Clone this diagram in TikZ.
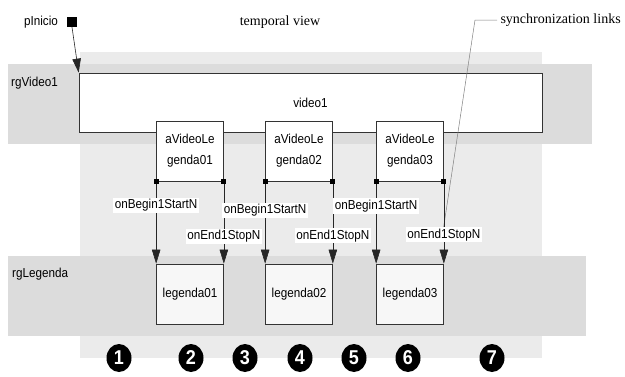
\documentclass[tikz,border=0pt]{standalone}
\usepackage{fontspec}
\setmainfont{Liberation Serif}
\setsansfont{Liberation Sans}[FakeStretch=0.9]
\usetikzlibrary{arrows.meta,shapes.geometric}

\definecolor{bgLight}{HTML}{EBEBEB}
\definecolor{bgBand}{HTML}{DCDCDC}
\definecolor{boxLine}{HTML}{333333}

\tikzset{
  txt/.style={font=\sffamily\fontsize{13}{21}\selectfont, inner sep=1pt},
  box/.style={draw=boxLine, fill=white, line width=0.7pt, inner sep=0pt,
              minimum width=67pt, minimum height=60pt, align=center, txt},
  leg/.style={box, fill=black!3},
  sq/.style={fill=black, inner sep=0pt, minimum size=5pt},
  arr/.style={-{Triangle[length=14pt,width=8.5pt]}, draw=black!85, line width=0.6pt},
  lbl/.style={txt, fill=white, inner sep=1.5pt},
  num/.style={ellipse, fill=black, text=white, inner sep=0pt,
              minimum width=25pt, minimum height=28pt,
              font=\sffamily\bfseries\fontsize{20}{20}\selectfont},
}

\begin{document}
\begin{tikzpicture}[x=1pt, y=-1pt]
        \useasboundingbox (0,0) rectangle (625,376);

        % Background
        \fill[bgLight] (80,52) rectangle (542,358);
        \fill[bgBand] (8,64) rectangle (592,144);
        \fill[bgBand] (8,256) rectangle (586,336);

        % Titles
        \node[font=\fontsize{14}{14}\selectfont] (title) at (280,22) {temporal view};
        \node[font=\fontsize{14}{14}\selectfont, anchor=west] (sync) at (497,20) {synchronization links};
        \node[txt, anchor=west] (rgvideo) at (10,83) {rgVideo1};
        \node[txt, anchor=west] (rglegenda) at (11,274) {rgLegenda};

        % Nodes
        \node[txt] (pinlbl) at (41,22) {pInicio};
        \node[fill=black, inner sep=0pt, minimum size=10pt] (pinicio) at (72,22) {};
        \node[box, minimum width=463pt, minimum height=59pt] (video1) at (310.5,102.5) {video1};

        \node[box] (avl1) at (190,151) {aVideoLe\\genda01};
        \node[box] (avl2) at (299,151) {aVideoLe\\genda02};
        \node[box] (avl3) at (410,151) {aVideoLe\\genda03};

        \node[leg] (leg1) at (190,294) {legenda01};
        \node[leg] (leg2) at (299,294) {legenda02};
        \node[leg] (leg3) at (410,294) {legenda03};

        \coordinate (syncend) at (443.5,228);

        % Edges
        \draw[arr] (pinicio.south) -- (video1.north west);
        \draw[gray, line width=0.5pt] (sync.west) -- ++(-22,0) -- (syncend);

        \draw[arr] (avl1.south west) -- (leg1.north west) node[lbl, pos=.29] {onBegin1StartN};
        \draw[arr] (avl1.south east) -- (leg1.north east) node[lbl, pos=.67] {onEnd1StopN};
        \draw[arr] (avl2.south west) -- (leg2.north west) node[lbl, pos=.35] {onBegin1StartN};
        \draw[arr] (avl2.south east) -- (leg2.north east) node[lbl, pos=.66] {onEnd1StopN};
        \draw[arr] (avl3.south west) -- (leg3.north west) node[lbl, pos=.30] {onBegin1StartN};
        \draw[arr] (avl3.south east) -- (leg3.north east) node[lbl, pos=.65] {onEnd1StopN};

        \node[sq] at (avl1.south west) {};
        \node[sq] at (avl1.south east) {};
        \node[sq] at (avl2.south west) {};
        \node[sq] at (avl2.south east) {};
        \node[sq] at (avl3.south west) {};
        \node[sq] at (avl3.south east) {};

        % Steps
        \node[num] (n1) at (119,358) {1};
        \node[num] (n2) at (191,358) {2};
        \node[num] (n3) at (245,358) {3};
        \node[num] (n4) at (300,358) {4};
        \node[num] (n5) at (354,358) {5};
        \node[num] (n6) at (408,358) {6};
        \node[num] (n7) at (492,358) {7};
    \end{tikzpicture}
\end{document}
